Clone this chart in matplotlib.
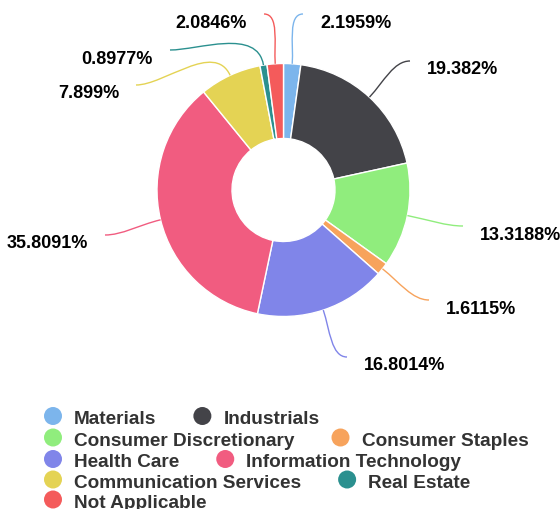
import numpy as np
import matplotlib
matplotlib.use("Agg")
import matplotlib.pyplot as plt
from matplotlib.path import Path
from matplotlib.patches import PathPatch, Circle

plt.rcParams["font.family"] = ["Liberation Sans", "DejaVu Sans"]

# sector weights, clockwise from 12 o'clock
sectors = [
    "Materials",
    "Industrials",
    "Consumer Discretionary",
    "Consumer Staples",
    "Health Care",
    "Information Technology",
    "Communication Services",
    "Real Estate",
    "Not Applicable",
]
weights = [2.1959, 19.382, 13.3188, 1.6115, 16.8014, 35.8091, 7.899, 0.8977, 2.0846]
labels = ["2.1959%", "19.382%", "13.3188%", "1.6115%", "16.8014%",
          "35.8091%", "7.899%", "0.8977%", "2.0846%"]
colors = ["#7cb5ec", "#434348", "#90ed7d", "#f7a35c", "#8085e9",
          "#f15c80", "#e4d354", "#2b908f", "#f45b5b"]

# legend rows (flow layout)
legend_rows = [[0, 1], [2, 3], [4, 5], [6, 7], [8]]

W, H = 560, 510
cx, cy, r_out, r_in = 283.5, 191, 126.5, 51.5

# label layout: connector end (pixels, y down) and text side
label_ends = [(303, 15), (410, 62), (463, 227), (429, 301), (347, 358),
              (105, 236), (136, 86), (170, 51), (264, 15)]
label_side = [1, 1, 1, 1, 1, -1, -1, -1, -1]


def P(x, y):
    return x, H - y


fig = plt.figure(figsize=(W / 100, H / 100), dpi=100)
ax = fig.add_axes([0, 0, 1, 1])

wedges, _ = ax.pie(weights, colors=colors, startangle=90, counterclock=False,
                   center=P(cx, cy), radius=r_out,
                   wedgeprops=dict(width=r_out - r_in, edgecolor="white", linewidth=1))
ax.set_xlim(0, W)
ax.set_ylim(0, H)
ax.set_aspect("equal")
ax.axis("off")

# data labels with curved connectors
for w, lab, col, end, side in zip(wedges, labels, colors, label_ends, label_side):
    mid = np.deg2rad((w.theta1 + w.theta2) / 2)
    d = np.array([np.cos(mid), np.sin(mid)])
    c0 = np.array(P(cx, cy))
    e = c0 + r_out * d
    L = np.array(P(*end))
    dist = np.linalg.norm(L - e)
    p1 = e + d * 0.4 * dist
    p2 = L + np.array([-side * 0.3 * dist, 0])
    path = Path([e, p1, p2, L], [Path.MOVETO, Path.CURVE4, Path.CURVE4, Path.CURVE4])
    ax.add_patch(PathPatch(path, fill=False, edgecolor=col, linewidth=1))
    tx = L[0] + side * 17
    ax.text(tx, L[1] - 12.5, lab, ha="left" if side > 0 else "right", va="baseline",
            fontsize=13, fontweight="bold", color="#000000")

# legend
renderer = fig.canvas.get_renderer()
row_y = [417, 438.5, 460, 480.5, 500.5]
for row, yy in zip(legend_rows, row_y):
    x = 53
    for i in row:
        ax.add_patch(Circle(P(x, yy), 9, color=colors[i], lw=0))
        t = ax.text(x + 21, H - yy - 7.5, sectors[i], ha="left", va="baseline",
                    fontsize=13.7, fontweight="bold", color="#333333")
        bb = t.get_window_extent(renderer=renderer)
        x = x + 21 + bb.width + 46

fig.savefig("out.png", dpi=100)
